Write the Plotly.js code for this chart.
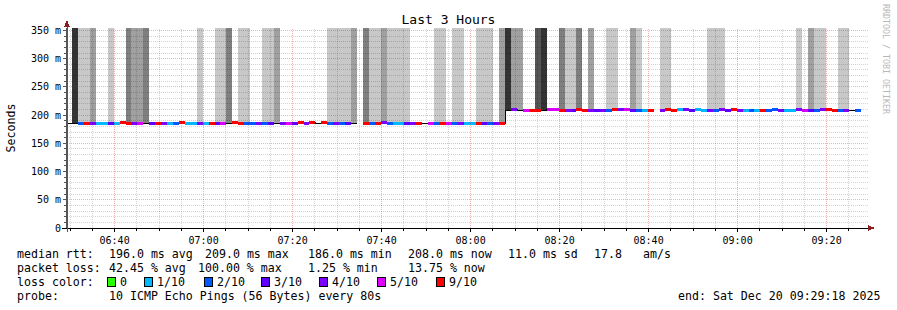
<!DOCTYPE html>
<html>
<head>
<meta charset="utf-8">
<script src="https://cdn.plot.ly/plotly-3.0.1.min.js"></script>
<style>
html,body{margin:0;padding:0;background:#fff;}
#chart{width:897px;height:310px;}
.shapelayer path{shape-rendering:crispEdges;}
.scatterlayer .js-line{shape-rendering:crispEdges;}
</style>
</head>
<body>
<div id="chart"></div>
<script>
// ---------------- data ----------------
const firstStepStart = '2025-12-20T06:29:07Z';
const stepSeconds = 80;
const rangeStart = '2025-12-20 06:29:18';
const rangeEnd = '2025-12-20 09:29:18';

// median rtt per 80 s step (ms)
const medianMs = [
  186,186,186,186,186,186,186,186,186,187.8,
  186,186,186,186,186,186,186,186,186,187.8,
  186,186,186,186,186,186,186,186,187.8,186,
  186,186,186,186,186,186,186,186,186,187.8,
  186,187.8,186,187.8,186,186,186,186,186,null,
  186,186,186,187.8,186,186,186,186,186,186,
  186,186,186,186,186,186,186,186,186,186,
  186,186,186,186,208,209.8,208,208,208,208,
  208,209.8,209.8,208,208,208,209.8,208,208,208,
  208,208,209.8,209.8,209.8,208,208,208,208,null,
  208,209.8,208,209.8,209.8,208,209.8,208,208,208,
  209.8,208,209.8,208,208,208,208,208,208,209.8,
  208,208,208,209.8,208,208,208,209.8,209.8,208,
  208,208,208,208,null
];
// pings lost out of 10 per step
const lossTenths = [
  10,10,2,9,4,1,1,3,1,9,
  9,4,5,10,3,9,4,1,2,9,
  1,1,4,1,9,3,5,10,9,9,
  2,2,4,2,3,10,4,5,3,9,
  4,9,10,9,2,4,2,3,10,null,
  9,2,9,4,2,1,1,3,4,9,
  10,5,2,9,5,2,4,1,1,9,
  3,2,4,9,10,4,10,5,9,9,
  10,5,5,9,4,3,9,9,4,3,
  4,2,9,4,5,3,2,1,9,null,
  4,9,9,1,4,3,1,1,4,2,
  4,3,9,4,1,2,1,9,2,2,
  4,1,1,4,5,3,2,4,9,9,
  2,4,10,2,null
];
// smoke shade level per step (0 = none, 5 = darkest)
const smokeShade = [
  0,5,1,1,2,0,0,1,0,0,
  3,2,2,3,0,0,0,0,0,0,
  0,0,1,0,0,1,1,3,0,1,
  1,0,0,1,1,2,0,0,0,0,
  0,0,0,0,1,1,1,1,2,0,
  3,1,1,2,1,1,1,1,0,0,
  0,0,1,1,0,1,1,0,0,1,
  1,1,0,2,5,2,2,0,0,4,
  5,0,0,3,1,1,3,0,2,0,
  0,1,1,0,0,2,1,0,0,0,
  1,1,0,0,0,0,0,0,1,1,
  1,0,0,0,0,0,0,0,0,0,
  0,0,0,1,0,2,1,1,0,0,
  1,1,0,0,0
];

const lossLevels = [0,1,2,3,4,5,9];
const lossLabels = ['0','1/10','2/10','3/10','4/10','5/10','9/10'];
const lossColors = ['#26ff00','#00b8ff','#0059ff','#5e00ff','#7e00ff','#dd00ff','#ff0000'];
const shadeColors = [null,'#c8c8c8','#a0a0a0','#7f7f7f','#555555','#333333'];

const yTickVals = [0,50,100,150,200,250,300,350];
const yTickText = ['0','50 m','100 m','150 m','200 m','250 m','300 m','350 m'];

const rttLabel = 'median rtt:';
const rttStats = ['196.0 ms avg','209.0 ms max','186.0 ms min','208.0 ms now','11.0 ms sd','17.8','am/s'];
const lossLabel = 'packet loss:';
const lossStats = ['42.45 % avg','100.00 % max','1.25 % min','13.75 % now'];
const colorLabel = 'loss color:';
const probeLabel = 'probe:';
const probeText = '10 ICMP Echo Pings (56 Bytes) every 80s';
const endText = 'end: Sat Dec 20 09:29:18 2025';
const chartTitle = 'Last 3 Hours';
const yTitle = 'Seconds';
const watermark = 'RRDTOOL / TOBI OETIKER';

// ---------------- layout geometry ----------------
const W = 897, H = 310, ML = 67, MR = 29, MT = 28, MB = 82;
const PW = W - ML - MR, PH = H - MT - MB;
const YMAX = 354.4;
const FONT = 'DejaVu Sans Mono';
const px = x => (x - ML) / PW;
const py = y => (MT + PH - y) / PH;
const fmt = ms => new Date(ms).toISOString().slice(0, 19).replace('T', ' ');

const t0 = Date.parse(firstStepStart);
const stepMs = stepSeconds * 1000;
const stepStart = i => t0 + i * stepMs;

// ---------------- traces ----------------
const traces = [];

// smoke bars
const bx = [], by = [], bb = [], bc = [], bw = [];
medianMs.forEach((m, i) => {
  if (m === null || !smokeShade[i]) return;
  bx.push(fmt(stepStart(i) + stepMs / 2));
  bb.push(m);
  by.push(YMAX + 2 - m);
  bc.push(shadeColors[smokeShade[i]]);
  bw.push(stepMs);
});
traces.push({type:'bar', x:bx, y:by, base:bb, width:bw,
  marker:{color:bc, line:{width:0}}, hoverinfo:'skip', showlegend:false});

// thin black median line
const lx = [], ly = [];
medianMs.forEach((m, i) => {
  if (m === null) { lx.push(null); ly.push(null); return; }
  lx.push(fmt(stepStart(i)), fmt(stepStart(i + 1)));
  ly.push(m, m);
});
traces.push({type:'scatter', mode:'lines', x:lx, y:ly,
  line:{color:'#000000', width:1}, connectgaps:false, hoverinfo:'skip', showlegend:false});

// coloured median segments by loss
lossLevels.forEach((lv, k) => {
  const sx = [], sy = [];
  medianMs.forEach((m, i) => {
    if (m === null || lossTenths[i] !== lv) return;
    sx.push(fmt(stepStart(i)), fmt(stepStart(i + 1)), null);
    sy.push(m, m, null);
  });
  if (sx.length) traces.push({type:'scatter', mode:'lines', x:sx, y:sy,
    line:{color:lossColors[k], width:3}, connectgaps:false, hoverinfo:'skip', showlegend:false});
});

// ---------------- shapes ----------------
const shapes = [];
const MINC = 'rgba(0,0,0,0.17)', MAJC = 'rgba(225,0,0,0.3)';
const rs = Date.parse(rangeStart.replace(' ', 'T') + 'Z');
const re = Date.parse(rangeEnd.replace(' ', 'T') + 'Z');
const majRef = Date.parse('2025-12-20T06:40:00Z');
for (let t = Math.ceil(rs / 300000) * 300000; t < re; t += 300000) {
  const major = ((t - majRef) % 1200000 + 1200000) % 1200000 === 0;
  shapes.push({type:'line', layer:'above', xref:'x', yref:'paper', x0:fmt(t), x1:fmt(t), y0:0, y1:1,
    line:{color: major ? MAJC : MINC, width:1, dash:'1px,1px'}});
}
for (let v = 10; v <= 350; v += 10) {
  const major = v % 50 === 0;
  shapes.push({type:'line', layer:'above', xref:'paper', yref:'y', x0:0, x1:1, y0:v, y1:v,
    line:{color: major ? MAJC : MINC, width:1, dash:'1px,1px'}});
}
// axis extensions and arrows
shapes.push({type:'line', xref:'paper', yref:'paper', x0:px(62), x1:px(67), y0:py(228), y1:py(228), line:{color:'#000', width:1}});
shapes.push({type:'line', xref:'paper', yref:'paper', x0:px(67), x1:px(67), y0:py(232), y1:py(22), line:{color:'#555', width:1}});
shapes.push({type:'path', xref:'paper', yref:'paper',
  path:`M ${px(64)},${py(27)} L ${px(67)},${py(20)} L ${px(70)},${py(27)} Z`,
  fillcolor:'#8b2020', line:{width:0}});
shapes.push({type:'path', xref:'paper', yref:'paper',
  path:`M ${px(868)},${py(225)} L ${px(875)},${py(228)} L ${px(868)},${py(231)} Z`,
  fillcolor:'#8b2020', line:{width:0}});

// ---------------- annotations (legend/stat text) ----------------
const ann = [];
const txt = (x, y, t, opts = {}) => ann.push(Object.assign({
  xref:'paper', yref:'paper', x:px(x), y:py(y), text:t, showarrow:false,
  xanchor:'left', yanchor:'middle', borderpad:0,
  font:{family:FONT, size:11.6, color:'#000'}}, opts));

const rttX = [107.5, 204, 307, 407, 507, 593, 642];
txt(16, 254, rttLabel);
rttStats.forEach((s, i) => txt(rttX[i], 254, s));
const lossX = [107.5, 197, 307, 407];
txt(16, 268, lossLabel);
lossStats.forEach((s, i) => txt(lossX[i], 268, s));
txt(16, 282, colorLabel);
const boxX = [107.5, 144.7, 204, 261, 319, 377.6, 436];
lossLabels.forEach((l, i) => {
  shapes.push({type:'rect', xref:'paper', yref:'paper', x0:px(boxX[i]), x1:px(boxX[i] + 8),
    y0:py(277.5), y1:py(286.5), fillcolor:lossColors[i], line:{color:'#000', width:1}});
  txt(boxX[i] + 11.5, 282, l);
});
txt(16, 296, probeLabel);
txt(107.5, 296, probeText);
txt(881, 296, endText, {xanchor:'right'});
ann.push({xref:'paper', yref:'paper', x:px(886), y:py(59), text:watermark, showarrow:false,
  textangle:90, xanchor:'center', yanchor:'middle',
  font:{family:FONT, size:8.3, color:'#b8b8b8'}});

// ---------------- layout ----------------
const layout = {
  width:W, height:H,
  margin:{l:ML, r:MR, t:MT, b:MB, pad:0},
  paper_bgcolor:'#ffffff', plot_bgcolor:'#ffffff',
  showlegend:false, bargap:0,
  title:{text:chartTitle, font:{family:FONT, size:13, color:'#000'},
    x:0.5, xref:'container', xanchor:'center', y:1 - 19.5 / H, yref:'container', yanchor:'middle'},
  xaxis:{type:'date', range:[rangeStart, rangeEnd], tickformat:'%H:%M',
    tick0:'2025-12-20 06:40:00', dtick:1200000,
    ticks:'outside', ticklen:3, tickcolor:'#000', tickwidth:1,
    minor:{dtick:300000, tick0:'2025-12-20 06:40:00', ticks:'outside', ticklen:2, tickcolor:'#000', showgrid:false},
    showgrid:false, zeroline:false, showline:true, linecolor:'#000', linewidth:1,
    tickfont:{family:FONT, size:10, color:'#000'}, fixedrange:true},
  yaxis:{range:[0, YMAX], tickmode:'array', tickvals:yTickVals, ticktext:yTickText,
    ticks:'outside', ticklen:3, tickcolor:'#555', tickwidth:1,
    minor:{dtick:10, tick0:0, ticks:'outside', ticklen:2, tickcolor:'#555', showgrid:false},
    showgrid:false, zeroline:false, showline:true, linecolor:'#555', linewidth:1,
    tickfont:{family:FONT, size:10, color:'#000'},
    title:{text:yTitle, font:{family:FONT, size:11.6, color:'#000'}, standoff:12},
    automargin:false, fixedrange:true},
  shapes:shapes,
  annotations:ann
};

Plotly.newPlot('chart', traces, layout, {staticPlot:true, displayModeBar:false});
</script>
</body>
</html>
